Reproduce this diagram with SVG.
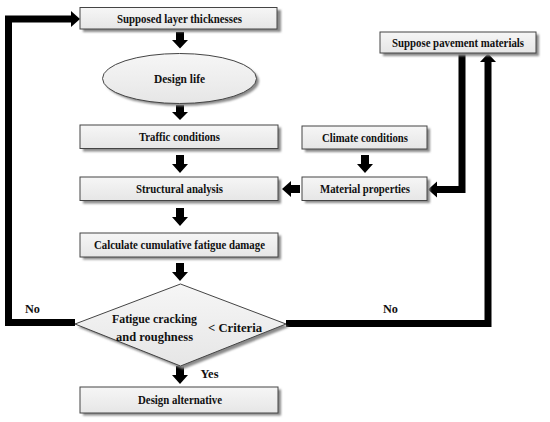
<svg xmlns="http://www.w3.org/2000/svg" width="550" height="422" viewBox="0 0 550 422">
<defs>
<style>
.box{fill:url(#g);stroke:#444;stroke-width:1}
.sh{fill:#8a8a8a;filter:url(#blur)}
.t{font-family:"Liberation Serif","Times New Roman",serif;font-weight:bold;font-size:12.5px;fill:#111;text-anchor:middle}
.ln{fill:none;stroke:#000;stroke-width:7;stroke-linejoin:miter}
.ar{fill:#000}
</style>
<linearGradient id="g" x1="0" y1="0" x2="0" y2="1">
<stop offset="0" stop-color="#f6f6f6"/>
<stop offset="1" stop-color="#e6e6e6"/>
</linearGradient>
<filter id="blur" x="-10%" y="-30%" width="120%" height="160%"><feGaussianBlur stdDeviation="1"/></filter>
</defs>

<g id="connectors">
<path class="ln" d="M75,322.5 H8.5 V19 H72"/>
<polygon class="ar" points="71,11 80,19 71,27"/>
<path class="ln" d="M286,323.5 H488 V62"/>
<polygon class="ar" points="480,62 488,53.5 496,62"/>
<path class="ln" d="M462,53 V189.5 H436"/>
<polygon class="ar" points="437,181.5 428,189.5 437,197.5"/>
<polygon class="ar" points="176,32 184,32 184,40 188,40 180,48.5 172,40 176,40"/>
<polygon class="ar" points="176,105 184,105 184,112 188,112 180,120 172,112 176,112"/>
<polygon class="ar" points="176,155 184,155 184,164 188,164 180,173 172,164 176,164"/>
<polygon class="ar" points="176,208 184,208 184,217 188,217 180,226 172,217 176,217"/>
<polygon class="ar" points="176,263 184,263 184,272 188,272 180,281 172,272 176,272"/>
<polygon class="ar" points="176,366 184,366 184,375 188,375 180,384 172,375 176,375"/>
<polygon class="ar" points="361,155 369,155 369,164 373,164 365,173 357,164 361,164"/>
<polygon class="ar" points="300,185 291,185 291,181 282,189 291,197 291,193 300,193"/>
<text class="t" x="32.5" y="312.5" textLength="15" lengthAdjust="spacingAndGlyphs">No</text>
<text class="t" x="390.5" y="313" textLength="15" lengthAdjust="spacingAndGlyphs">No</text>
<text class="t" x="209.5" y="378" textLength="18" lengthAdjust="spacingAndGlyphs">Yes</text>
</g>

<g id="n1">
<rect class="sh" x="83" y="10" width="198" height="22"/>
<rect class="box" x="80" y="7.5" width="197" height="21.5"/>
<text class="t" x="179.5" y="22.5" textLength="125" lengthAdjust="spacingAndGlyphs">Supposed layer thicknesses</text>
</g>
<g id="n2">
<ellipse class="sh" cx="182" cy="81" rx="77" ry="25"/>
<ellipse class="box" cx="179.5" cy="78.5" rx="77" ry="25"/>
<text class="t" x="179.5" y="82.5" textLength="51" lengthAdjust="spacingAndGlyphs">Design life</text>
</g>
<g id="n3">
<rect class="sh" x="83" y="127.5" width="198" height="24"/>
<rect class="box" x="80" y="125" width="198" height="23.5"/>
<text class="t" x="179.5" y="141" textLength="81" lengthAdjust="spacingAndGlyphs">Traffic conditions</text>
</g>
<g id="n4">
<rect class="sh" x="83" y="179.5" width="198" height="24"/>
<rect class="box" x="80" y="177" width="198" height="23.5"/>
<text class="t" x="179.5" y="193" textLength="87" lengthAdjust="spacingAndGlyphs">Structural analysis</text>
</g>
<g id="n5">
<rect class="sh" x="83" y="235.5" width="198" height="24"/>
<rect class="box" x="80" y="233" width="198" height="24"/>
<text class="t" x="179.5" y="249" textLength="171" lengthAdjust="spacingAndGlyphs">Calculate cumulative fatigue damage</text>
</g>
<g id="n6">
<polygon class="sh" points="183,287 289,327 183,369 78,327"/>
<polygon class="box" points="180.5,284 286,324 180.5,366 75,324"/>
<text class="t" x="154.5" y="323" textLength="85" lengthAdjust="spacingAndGlyphs">Fatigue cracking</text>
<text class="t" x="154.5" y="340.5" textLength="77" lengthAdjust="spacingAndGlyphs">and roughness</text>
<text class="t" x="235" y="332" textLength="54" lengthAdjust="spacingAndGlyphs">&lt; Criteria</text>
</g>
<g id="n7">
<rect class="sh" x="83" y="389.5" width="198" height="26"/>
<rect class="box" x="80" y="387" width="198" height="26"/>
<text class="t" x="180" y="404" textLength="84" lengthAdjust="spacingAndGlyphs">Design alternative</text>
</g>
<g id="n8">
<rect class="sh" x="305" y="128.5" width="125" height="23.5"/>
<rect class="box" x="302" y="126" width="125" height="23"/>
<text class="t" x="365" y="141.5" textLength="86" lengthAdjust="spacingAndGlyphs">Climate conditions</text>
</g>
<g id="n9">
<rect class="sh" x="305" y="179.5" width="125" height="23.5"/>
<rect class="box" x="302" y="177" width="125" height="23.5"/>
<text class="t" x="365" y="193" textLength="90" lengthAdjust="spacingAndGlyphs">Material properties</text>
</g>
<g id="n10">
<rect class="sh" x="383" y="34.5" width="156" height="21.5"/>
<rect class="box" x="380" y="32" width="156" height="21"/>
<text class="t" x="458" y="47" textLength="132" lengthAdjust="spacingAndGlyphs">Suppose pavement materials</text>
</g>
</svg>
